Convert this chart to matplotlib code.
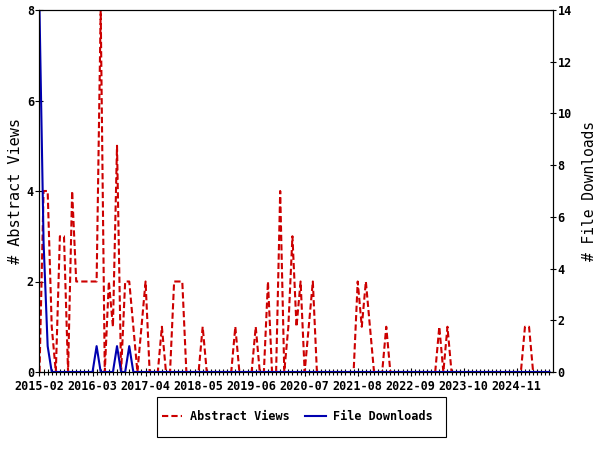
import numpy as np
import matplotlib
matplotlib.use("Agg")
import matplotlib.pyplot as plt
from matplotlib.patches import Rectangle
from matplotlib.ticker import MultipleLocator

# monthly counts, first month is 2015-02
abstract_views = [0, 4, 4, 1, 0, 3, 3, 0, 4, 2,
                  2, 2, 2, 2, 2, 8, 0, 2, 1, 5,
                  0, 2, 2, 1, 0, 1, 2, 0, 0, 0,
                  1, 0, 0, 2, 2, 2, 0, 0, 0, 0,
                  1, 0, 0, 0, 0, 0, 0, 0, 1, 0,
                  0, 0, 0, 1, 0, 0, 2, 0, 0, 4,
                  0, 1, 3, 1, 2, 0, 1, 2, 0, 0,
                  0, 0, 0, 0, 0, 0, 0, 0, 2, 1,
                  2, 1, 0, 0, 0, 1, 0, 0, 0, 0,
                  0, 0, 0, 0, 0, 0, 0, 0, 1, 0,
                  1, 0, 0, 0, 0, 0, 0, 0, 0, 0,
                  0, 0, 0, 0, 0, 0, 0, 0, 0, 1,
                  1, 0, 0, 0, 0, 0]
file_downloads = [14, 5, 1, 0, 0, 0, 0, 0, 0, 0,
                  0, 0, 0, 0, 1, 0, 0, 0, 0, 1,
                  0, 0, 1] + [0] * 103
tick_labels = ["2015-02", "2016-03", "2017-04", "2018-05", "2019-06",
               "2020-07", "2021-08", "2022-09", "2023-10", "2024-11"]

months = np.arange(len(abstract_views))

plt.rcParams['font.family'] = 'DejaVu Sans Mono'
tick_font = dict(family='DejaVu Sans Mono', weight='bold', size=8.5)

fig = plt.figure(figsize=(6, 4.5), dpi=100)
ax = fig.add_axes([39.5 / 600, 78 / 450, 513.2 / 600, 362 / 450])
ax2 = ax.twinx()

l1, = ax.plot(months, abstract_views, color='#cc0000', lw=1.5, dashes=(3, 1.5))
l2, = ax2.plot(months, file_downloads, color='#0000b0', lw=1.5)

ax.set_xlim(0, 125.8)
ax.set_ylim(0, 8)
ax2.set_ylim(0, 14)
ax.set_xticks(np.arange(0, 13 * len(tick_labels), 13))
ax.set_xticklabels(tick_labels)
ax.xaxis.set_minor_locator(MultipleLocator(1))
ax.set_yticks([0, 2, 4, 6, 8])
ax2.set_yticks(range(0, 15, 2))

ax.tick_params(axis='x', which='major', direction='inout', length=6, width=0.8, pad=2.5)
ax.tick_params(axis='x', which='minor', direction='inout', length=4, width=0.8)
ax.tick_params(axis='y', direction='inout', length=6, width=0.8, pad=1)
ax2.tick_params(axis='y', direction='inout', length=5, width=0.8, pad=1)
for lab in ax.get_xticklabels() + ax.get_yticklabels() + ax2.get_yticklabels():
    lab.set_fontproperties(tick_font)

for a in (ax, ax2):
    for s in a.spines.values():
        s.set_linewidth(0.8)

ax.set_ylabel("# Abstract Views", fontsize=11, labelpad=3)
ax2.set_ylabel("# File Downloads", fontsize=10.5, labelpad=7)

# legend box drawn by hand, entries placed inside it
fig.patches.append(Rectangle((157 / 600, 1 - 437 / 450), 289 / 600, 40 / 450,
                             transform=fig.transFigure, fill=False,
                             edgecolor='black', lw=0.8))
leg = fig.legend([l1, l2], ["Abstract Views", "File Downloads"], loc='center left',
                 bbox_to_anchor=(162 / 600, 1 - 417 / 450), ncol=2, frameon=False,
                 prop=tick_font, handlelength=1.7, handletextpad=0.65,
                 columnspacing=1.35, borderpad=0, borderaxespad=0)

plt.savefig("out.png", dpi=100)
